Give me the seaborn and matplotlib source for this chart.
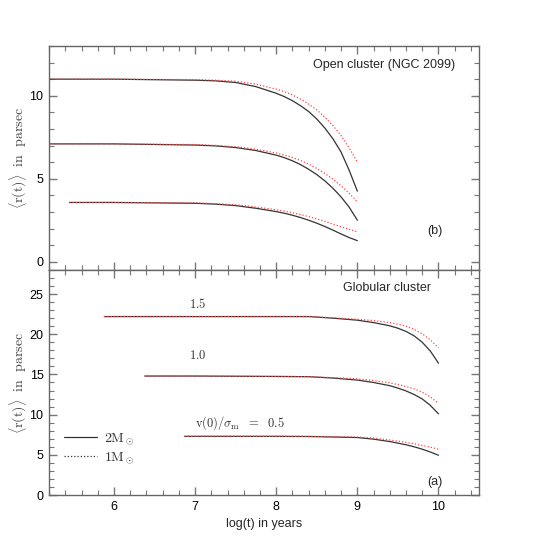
import numpy as np
import pandas as pd
import matplotlib
matplotlib.use("Agg")
import matplotlib.pyplot as plt
import seaborn as sns
from matplotlib.lines import Line2D
from matplotlib.ticker import MultipleLocator

sns.set_theme(style="white")
plt.rcParams.update({
    'font.family': ['Liberation Sans', 'DejaVu Sans'],
    'font.size': 9,
    'mathtext.fontset': 'cm',
    'axes.edgecolor': '#666666',
    'axes.linewidth': 1.0,
})

# --- Open cluster (NGC 2099), panel (b) ---
open_t = [5.2, 6.0, 7.0, 7.25, 7.5, 7.75, 8.0, 8.1, 8.2, 8.3, 8.4, 8.5, 8.6, 8.7, 8.8, 8.9, 9.0]
open_t_low = [5.45, 6.0, 7.0, 7.25, 7.5, 7.75, 8.0, 8.1, 8.2, 8.3, 8.4, 8.5, 8.6, 8.7, 8.8, 8.9, 9.0]
open_hi_2m = [11.0, 11.0, 10.94, 10.9, 10.8, 10.55, 10.15, 9.95, 9.7, 9.4, 9.05, 8.6, 8.05, 7.4, 6.6, 5.5, 4.25]
open_hi_1m = [11.0, 11.0, 10.97, 10.94, 10.88, 10.7, 10.4, 10.25, 10.05, 9.8, 9.5, 9.15, 8.7, 8.2, 7.6, 6.85, 6.0]
open_mid_2m = [7.1, 7.1, 7.03, 6.98, 6.88, 6.7, 6.42, 6.27, 6.08, 5.85, 5.57, 5.25, 4.87, 4.42, 3.9, 3.28, 2.5]
open_mid_1m = [7.1, 7.1, 7.06, 7.01, 6.93, 6.78, 6.55, 6.43, 6.28, 6.1, 5.88, 5.62, 5.32, 4.97, 4.57, 4.12, 3.6]
open_low_2m = [3.57, 3.57, 3.52, 3.47, 3.38, 3.22, 3.02, 2.92, 2.8, 2.66, 2.5, 2.32, 2.12, 1.9, 1.67, 1.45, 1.27]
open_low_1m = [3.57, 3.57, 3.55, 3.5, 3.43, 3.3, 3.13, 3.05, 2.95, 2.84, 2.72, 2.58, 2.43, 2.27, 2.1, 1.95, 1.8]

# --- Globular cluster, panel (a) ---
glob_t15 = [5.88, 7.0, 8.0, 8.4, 8.7, 9.0, 9.2, 9.4, 9.5, 9.6, 9.7, 9.8, 9.9, 10.0]
glob15_2m = [22.2, 22.2, 22.2, 22.2, 22.0, 21.75, 21.45, 21.05, 20.75, 20.35, 19.8, 19.0, 17.9, 16.4]
glob15_1m = [22.2, 22.2, 22.2, 22.2, 22.05, 21.87, 21.7, 21.45, 21.25, 21.0, 20.6, 20.05, 19.3, 18.3]
glob_t10 = [6.38, 7.0, 8.0, 8.4, 8.7, 9.0, 9.2, 9.4, 9.5, 9.6, 9.7, 9.8, 9.9, 10.0]
glob10_2m = [14.8, 14.8, 14.75, 14.72, 14.55, 14.3, 14.0, 13.6, 13.3, 12.95, 12.5, 11.95, 11.15, 10.1]
glob10_1m = [14.8, 14.8, 14.75, 14.73, 14.6, 14.45, 14.25, 13.95, 13.75, 13.5, 13.2, 12.8, 12.2, 11.4]
glob_t05 = [6.87, 7.0, 8.0, 8.4, 8.7, 9.0, 9.2, 9.4, 9.5, 9.6, 9.7, 9.8, 9.9, 10.0]
glob05_2m = [7.3, 7.3, 7.3, 7.28, 7.22, 7.15, 6.95, 6.65, 6.45, 6.25, 6.0, 5.7, 5.35, 4.95]
glob05_1m = [7.3, 7.3, 7.3, 7.29, 7.26, 7.22, 7.08, 6.85, 6.7, 6.55, 6.37, 6.15, 5.95, 5.7]

PALETTE = {'2M': '#333333', '1M': '#ff4545'}
DASHES = {'2M': '', '1M': (1, 1.6)}


def long_form(curves):
    rows = []
    for name, t, r2, r1 in curves:
        for mass, r in (('2M', r2), ('1M', r1)):
            for ti, ri in zip(t, r):
                rows.append({'logt': ti, 'r': ri, 'mass': mass, 'curve': name + mass})
    return pd.DataFrame(rows)


df_open = long_form([
    ('hi', open_t, open_hi_2m, open_hi_1m),
    ('mid', open_t, open_mid_2m, open_mid_1m),
    ('low', open_t_low, open_low_2m, open_low_1m),
])
df_glob = long_form([
    ('15', glob_t15, glob15_2m, glob15_1m),
    ('10', glob_t10, glob10_2m, glob10_1m),
    ('05', glob_t05, glob05_2m, glob05_1m),
])

fig = plt.figure(figsize=(5.45, 5.45), dpi=100)
ax_b = fig.add_axes([0.090, 0.5046, 0.789, 0.411])
ax_a = fig.add_axes([0.090, 0.0917, 0.789, 0.413])

for ax, d in ((ax_b, df_open), (ax_a, df_glob)):
    sns.lineplot(data=d, x='logt', y='r', hue='mass', style='mass', units='curve',
                 estimator=None, sort=False, palette=PALETTE, dashes=DASHES,
                 hue_order=['2M', '1M'], style_order=['2M', '1M'],
                 lw=0.9, legend=False, ax=ax)
    ax.set_xlim(5.2, 10.5)
    ax.xaxis.set_major_locator(MultipleLocator(1))
    ax.xaxis.set_minor_locator(MultipleLocator(0.2))
    ax.yaxis.set_minor_locator(MultipleLocator(1))
    ax.tick_params(which='both', direction='in', bottom=True, left=True, top=True, right=True,
                   color='#777777', labelsize=9, labelcolor='black')
    ax.tick_params(which='major', length=6, width=1.0, pad=4)
    ax.tick_params(which='minor', length=3.5, width=0.8)
    ax.set_ylabel(r"$\langle\mathrm{r(t)}\rangle\ \ \mathrm{in\ \ parsec}$",
                  fontsize=10, color='#444444')
    ax.yaxis.set_label_coords(-0.047, 0.5)
    ax.grid(False)

ax_b.set_ylim(-0.5, 13)
ax_b.yaxis.set_major_locator(MultipleLocator(5))
ax_b.tick_params(labelbottom=False)
ax_b.set_xlabel('')
ax_b.text(10.2, 11.85, 'Open cluster (NGC 2099)', ha='right', va='center', fontsize=9)
ax_b.text(9.96, 1.85, '(b)', ha='center', va='center', fontsize=9)

ax_a.set_ylim(0, 28)
ax_a.yaxis.set_major_locator(MultipleLocator(5))
ax_a.set_xlabel('log(t) in years', fontsize=9, labelpad=4)
ax_a.text(9.36, 25.8, 'Globular cluster', ha='center', va='center', fontsize=9)
ax_a.text(9.96, 1.6, '(a)', ha='center', va='center', fontsize=9)
ax_a.text(7.03, 23.8, r"$1.5$", ha='center', va='center', fontsize=9, color='#333333')
ax_a.text(7.03, 17.3, r"$1.0$", ha='center', va='center', fontsize=9, color='#333333')
ax_a.text(7.0, 9.0, r"$\mathrm{v(0)}/\sigma_\mathrm{m}\ \ =\ \ 0.5$", ha='left', va='center',
          fontsize=9, color='#333333')

handles = [Line2D([], [], color='#333333', lw=0.9),
           Line2D([], [], color='#333333', lw=0.9, ls=(0, (1, 1.6)))]
ax_a.legend(handles, [r"$2\mathrm{M}_\odot$", r"$1\mathrm{M}_\odot$"], loc='lower left',
            bbox_to_anchor=(0.035, 0.13), frameon=False, handlelength=2.4,
            handletextpad=0.5, labelspacing=0.2, borderpad=0, borderaxespad=0,
            fontsize=10, labelcolor='#333333')

fig.savefig('out.png', dpi=100)
